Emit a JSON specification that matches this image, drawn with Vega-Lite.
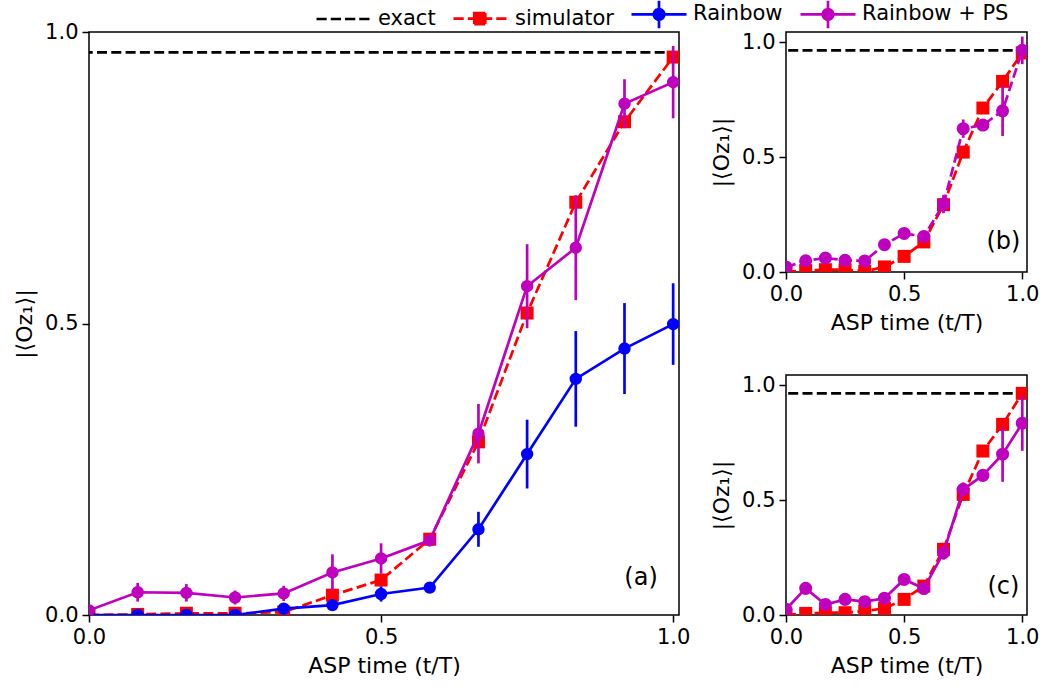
{
  "$schema": "https://vega.github.io/schema/vega-lite/v6.json",
  "padding": {"left": 12, "top": 0, "right": 5, "bottom": 5},
  "background": "white",
  "bounds": "flush",
  "spacing": 107,
  "datasets": {
    "pts": [
      {"p": "a", "s": "exact", "y": 0.965},
      {"p": "a", "s": "simulator", "t": 0.0, "y": 0.0},
      {"p": "a", "s": "simulator", "t": 0.0833, "y": 0.001},
      {"p": "a", "s": "simulator", "t": 0.1667, "y": 0.003},
      {"p": "a", "s": "simulator", "t": 0.25, "y": 0.003},
      {"p": "a", "s": "simulator", "t": 0.3333, "y": 0.005},
      {"p": "a", "s": "simulator", "t": 0.4167, "y": 0.034},
      {"p": "a", "s": "simulator", "t": 0.5, "y": 0.06},
      {"p": "a", "s": "simulator", "t": 0.5833, "y": 0.13},
      {"p": "a", "s": "simulator", "t": 0.6667, "y": 0.297},
      {"p": "a", "s": "simulator", "t": 0.75, "y": 0.518},
      {"p": "a", "s": "simulator", "t": 0.8333, "y": 0.708},
      {"p": "a", "s": "simulator", "t": 0.9167, "y": 0.846},
      {"p": "a", "s": "simulator", "t": 1.0, "y": 0.957},
      {"p": "a", "s": "Rainbow", "t": 0.0, "y": 0.0, "e": 0.002},
      {"p": "a", "s": "Rainbow", "t": 0.0833, "y": 0.0, "e": 0.003},
      {"p": "a", "s": "Rainbow", "t": 0.1667, "y": 0.0, "e": 0.003},
      {"p": "a", "s": "Rainbow", "t": 0.25, "y": 0.0, "e": 0.003},
      {"p": "a", "s": "Rainbow", "t": 0.3333, "y": 0.011, "e": 0.005},
      {"p": "a", "s": "Rainbow", "t": 0.4167, "y": 0.017, "e": 0.006},
      {"p": "a", "s": "Rainbow", "t": 0.5, "y": 0.036, "e": 0.013},
      {"p": "a", "s": "Rainbow", "t": 0.5833, "y": 0.047, "e": 0.006},
      {"p": "a", "s": "Rainbow", "t": 0.6667, "y": 0.147, "e": 0.03},
      {"p": "a", "s": "Rainbow", "t": 0.75, "y": 0.276, "e": 0.059},
      {"p": "a", "s": "Rainbow", "t": 0.8333, "y": 0.405, "e": 0.082},
      {"p": "a", "s": "Rainbow", "t": 0.9167, "y": 0.457, "e": 0.078},
      {"p": "a", "s": "Rainbow", "t": 1.0, "y": 0.499, "e": 0.07},
      {"p": "a", "s": "Rainbow + PS", "t": 0.0, "y": 0.008, "e": 0.004},
      {"p": "a", "s": "Rainbow + PS", "t": 0.0833, "y": 0.039, "e": 0.016},
      {"p": "a", "s": "Rainbow + PS", "t": 0.1667, "y": 0.038, "e": 0.015},
      {"p": "a", "s": "Rainbow + PS", "t": 0.25, "y": 0.03, "e": 0.012},
      {"p": "a", "s": "Rainbow + PS", "t": 0.3333, "y": 0.037, "e": 0.013},
      {"p": "a", "s": "Rainbow + PS", "t": 0.4167, "y": 0.073, "e": 0.031},
      {"p": "a", "s": "Rainbow + PS", "t": 0.5, "y": 0.097, "e": 0.026},
      {"p": "a", "s": "Rainbow + PS", "t": 0.5833, "y": 0.128, "e": 0.01},
      {"p": "a", "s": "Rainbow + PS", "t": 0.6667, "y": 0.311, "e": 0.051},
      {"p": "a", "s": "Rainbow + PS", "t": 0.75, "y": 0.564, "e": 0.072},
      {"p": "a", "s": "Rainbow + PS", "t": 0.8333, "y": 0.63, "e": 0.09},
      {"p": "a", "s": "Rainbow + PS", "t": 0.9167, "y": 0.877, "e": 0.042},
      {"p": "a", "s": "Rainbow + PS", "t": 1.0, "y": 0.914, "e": 0.062},

      {"p": "b", "s": "exact", "y": 0.965},
      {"p": "b", "s": "simulator", "t": 0.0, "y": 0.0},
      {"p": "b", "s": "simulator", "t": 0.0833, "y": 0.007},
      {"p": "b", "s": "simulator", "t": 0.1667, "y": 0.01},
      {"p": "b", "s": "simulator", "t": 0.25, "y": 0.01},
      {"p": "b", "s": "simulator", "t": 0.3333, "y": 0.003},
      {"p": "b", "s": "simulator", "t": 0.4167, "y": 0.022},
      {"p": "b", "s": "simulator", "t": 0.5, "y": 0.068},
      {"p": "b", "s": "simulator", "t": 0.5833, "y": 0.131},
      {"p": "b", "s": "simulator", "t": 0.6667, "y": 0.293},
      {"p": "b", "s": "simulator", "t": 0.75, "y": 0.522},
      {"p": "b", "s": "simulator", "t": 0.8333, "y": 0.714},
      {"p": "b", "s": "simulator", "t": 0.9167, "y": 0.83},
      {"p": "b", "s": "simulator", "t": 1.0, "y": 0.954},
      {"p": "b", "s": "Rainbow + PS", "t": 0.0, "y": 0.022, "e": 0.01},
      {"p": "b", "s": "Rainbow + PS", "t": 0.0833, "y": 0.049, "e": 0.01},
      {"p": "b", "s": "Rainbow + PS", "t": 0.1667, "y": 0.061, "e": 0.01},
      {"p": "b", "s": "Rainbow + PS", "t": 0.25, "y": 0.051, "e": 0.01},
      {"p": "b", "s": "Rainbow + PS", "t": 0.3333, "y": 0.048, "e": 0.01},
      {"p": "b", "s": "Rainbow + PS", "t": 0.4167, "y": 0.119, "e": 0.02},
      {"p": "b", "s": "Rainbow + PS", "t": 0.5, "y": 0.168, "e": 0.01},
      {"p": "b", "s": "Rainbow + PS", "t": 0.5833, "y": 0.155, "e": 0.015},
      {"p": "b", "s": "Rainbow + PS", "t": 0.6667, "y": 0.296, "e": 0.04},
      {"p": "b", "s": "Rainbow + PS", "t": 0.75, "y": 0.624, "e": 0.04},
      {"p": "b", "s": "Rainbow + PS", "t": 0.8333, "y": 0.64, "e": 0.01},
      {"p": "b", "s": "Rainbow + PS", "t": 0.9167, "y": 0.702, "e": 0.11},
      {"p": "b", "s": "Rainbow + PS", "t": 1.0, "y": 0.965, "e": 0.06},

      {"p": "c", "s": "exact", "y": 0.965},
      {"p": "c", "s": "simulator", "t": 0.0, "y": 0.0},
      {"p": "c", "s": "simulator", "t": 0.0833, "y": 0.007},
      {"p": "c", "s": "simulator", "t": 0.1667, "y": 0.01},
      {"p": "c", "s": "simulator", "t": 0.25, "y": 0.01},
      {"p": "c", "s": "simulator", "t": 0.3333, "y": 0.017},
      {"p": "c", "s": "simulator", "t": 0.4167, "y": 0.029},
      {"p": "c", "s": "simulator", "t": 0.5, "y": 0.068},
      {"p": "c", "s": "simulator", "t": 0.5833, "y": 0.126},
      {"p": "c", "s": "simulator", "t": 0.6667, "y": 0.286},
      {"p": "c", "s": "simulator", "t": 0.75, "y": 0.525},
      {"p": "c", "s": "simulator", "t": 0.8333, "y": 0.714},
      {"p": "c", "s": "simulator", "t": 0.9167, "y": 0.83},
      {"p": "c", "s": "simulator", "t": 1.0, "y": 0.965},
      {"p": "c", "s": "Rainbow + PS", "t": 0.0, "y": 0.025, "e": 0.01},
      {"p": "c", "s": "Rainbow + PS", "t": 0.0833, "y": 0.116, "e": 0.01},
      {"p": "c", "s": "Rainbow + PS", "t": 0.1667, "y": 0.046, "e": 0.01},
      {"p": "c", "s": "Rainbow + PS", "t": 0.25, "y": 0.068, "e": 0.01},
      {"p": "c", "s": "Rainbow + PS", "t": 0.3333, "y": 0.058, "e": 0.01},
      {"p": "c", "s": "Rainbow + PS", "t": 0.4167, "y": 0.073, "e": 0.01},
      {"p": "c", "s": "Rainbow + PS", "t": 0.5, "y": 0.155, "e": 0.01},
      {"p": "c", "s": "Rainbow + PS", "t": 0.5833, "y": 0.115, "e": 0.02},
      {"p": "c", "s": "Rainbow + PS", "t": 0.6667, "y": 0.271, "e": 0.03},
      {"p": "c", "s": "Rainbow + PS", "t": 0.75, "y": 0.547, "e": 0.03},
      {"p": "c", "s": "Rainbow + PS", "t": 0.8333, "y": 0.608, "e": 0.02},
      {"p": "c", "s": "Rainbow + PS", "t": 0.9167, "y": 0.7, "e": 0.12},
      {"p": "c", "s": "Rainbow + PS", "t": 1.0, "y": 0.835, "e": 0.12}
    ]
  },
  "hconcat": [
    {
      "width": 590,
      "height": 583,
      "data": {"name": "pts"},
      "transform": [{"filter": "datum.p === 'a'"}],
      "layer": [
        {
          "transform": [{"filter": "datum.s === 'exact'"}],
          "mark": {"type": "rule", "strokeDash": [10, 4.3], "strokeWidth": 2.7},
          "encoding": {
            "y": {"field": "y", "type": "quantitative", "scale": {"domain": [0, 1.0], "nice": false}, "axis": {"values": [0, 0.5, 1.0], "format": ".1f"}, "title": "|⟨Oz₁⟩|"},
            "color": {
              "field": "s", "type": "nominal",
              "scale": {"domain": ["exact", "simulator", "Rainbow", "Rainbow + PS"], "range": ["#000000", "#ff0000", "#0000ff", "#bf00bf"]},
              "legend": {
                "title": null,
                "orient": "none",
                "direction": "horizontal",
                "legendX": 226,
                "legendY": -32,
                "padding": 0,
                "symbolSize": 625,
                "labelOffset": 35,
                "columnPadding": 12,
                "labelFont": "DejaVu Sans",
                "labelFontSize": 21,
                "labelColor": "#000000",
                "labelLimit": 400,
                "symbolStrokeWidth": 2.7,
                "encode": {
                  "symbols": {
                    "update": {
                      "shape": {"signal": "datum.value === 'exact' ? 'M-1,0H-0.18M0.14,0H0.96M1.28,0H2.1M2.42,0H3.24' : datum.value === 'simulator' ? 'M-1,0H-0.18M0.14,0H2.1M2.42,0H3.24M0.66,-0.44H1.54V0.44H0.66Z' : 'M-1,0H3.4M1.2,-1.1V1.1M1.62,0A0.42,0.42 0 1,1 0.78,0A0.42,0.42 0 1,1 1.62,0Z'"},
                      "fill": {"signal": "datum.value === 'exact' ? '#000000' : datum.value === 'simulator' ? '#ff0000' : datum.value === 'Rainbow' ? '#0000ff' : '#bf00bf'"},
                      "stroke": {"signal": "datum.value === 'exact' ? '#000000' : datum.value === 'simulator' ? '#ff0000' : datum.value === 'Rainbow' ? '#0000ff' : '#bf00bf'"},
                      "strokeDash": {"value": [1, 0]},
                      "strokeWidth": {"value": 2.7},
                      "opacity": {"value": 1},
                      "fillOpacity": {"value": 1}
                    }
                  }
                }
              }
            }
          }
        },
        {
          "transform": [{"filter": "datum.s === 'simulator'"}],
          "mark": {"type": "line", "strokeDash": [10, 4.3], "strokeWidth": 2.7, "clip": true},
          "encoding": {
            "x": {"field": "t", "type": "quantitative", "scale": {"domain": [0, 1.01], "nice": false}, "axis": {"values": [0, 0.5, 1.0], "format": ".1f"}, "title": "ASP time (t/T)"},
            "y": {"field": "y", "type": "quantitative", "title": "|⟨Oz₁⟩|"},
            "color": {"field": "s", "type": "nominal"}
          }
        },
        {
          "transform": [{"filter": "datum.s === 'simulator'"}],
          "mark": {"type": "point", "shape": "square", "filled": true, "size": 169, "opacity": 1, "clip": true},
          "encoding": {
            "x": {"field": "t", "type": "quantitative", "title": "ASP time (t/T)"},
            "y": {"field": "y", "type": "quantitative", "title": "|⟨Oz₁⟩|"},
            "color": {"field": "s", "type": "nominal"}
          }
        },
        {
          "transform": [{"filter": "datum.s === 'Rainbow'"}],
          "mark": {"type": "errorbar", "thickness": 2.7, "clip": true},
          "encoding": {
            "x": {"field": "t", "type": "quantitative", "title": "ASP time (t/T)"},
            "y": {"field": "y", "type": "quantitative", "title": "|⟨Oz₁⟩|"},
            "yError": {"field": "e"},
            "color": {"field": "s", "type": "nominal"}
          }
        },
        {
          "transform": [{"filter": "datum.s === 'Rainbow'"}],
          "mark": {"type": "line", "strokeWidth": 2.7, "clip": true},
          "encoding": {
            "x": {"field": "t", "type": "quantitative", "title": "ASP time (t/T)"},
            "y": {"field": "y", "type": "quantitative", "title": "|⟨Oz₁⟩|"},
            "color": {"field": "s", "type": "nominal"}
          }
        },
        {
          "transform": [{"filter": "datum.s === 'Rainbow'"}],
          "mark": {"type": "point", "shape": "circle", "filled": true, "size": 154, "opacity": 1, "clip": true},
          "encoding": {
            "x": {"field": "t", "type": "quantitative", "title": "ASP time (t/T)"},
            "y": {"field": "y", "type": "quantitative", "title": "|⟨Oz₁⟩|"},
            "color": {"field": "s", "type": "nominal"}
          }
        },
        {
          "transform": [{"filter": "datum.s === 'Rainbow + PS'"}],
          "mark": {"type": "errorbar", "thickness": 2.7, "clip": true},
          "encoding": {
            "x": {"field": "t", "type": "quantitative", "title": "ASP time (t/T)"},
            "y": {"field": "y", "type": "quantitative", "title": "|⟨Oz₁⟩|"},
            "yError": {"field": "e"},
            "color": {"field": "s", "type": "nominal"}
          }
        },
        {
          "transform": [{"filter": "datum.s === 'Rainbow + PS'"}],
          "mark": {"type": "line", "strokeWidth": 2.7, "clip": true},
          "encoding": {
            "x": {"field": "t", "type": "quantitative", "title": "ASP time (t/T)"},
            "y": {"field": "y", "type": "quantitative", "title": "|⟨Oz₁⟩|"},
            "color": {"field": "s", "type": "nominal"}
          }
        },
        {
          "transform": [{"filter": "datum.s === 'Rainbow + PS'"}],
          "mark": {"type": "point", "shape": "circle", "filled": true, "size": 154, "opacity": 1, "clip": true},
          "encoding": {
            "x": {"field": "t", "type": "quantitative", "title": "ASP time (t/T)"},
            "y": {"field": "y", "type": "quantitative", "title": "|⟨Oz₁⟩|"},
            "color": {"field": "s", "type": "nominal"}
          }
        },
        {
          "transform": [{"filter": "datum.s === 'exact'"}],
          "mark": {"type": "text", "font": "DejaVu Sans", "fontSize": 24, "color": "#000000"},
          "encoding": {
            "x": {"datum": 0.945, "type": "quantitative"},
            "y": {"datum": 0.063, "type": "quantitative"},
            "text": {"value": "(a)"}
          }
        }
      ]
    },
    {
      "bounds": "flush",
      "spacing": 103,
      "vconcat": [
        {
          "width": 241,
          "height": 240,
          "data": {"name": "pts"},
          "transform": [{"filter": "datum.p === 'b'"}],
          "layer": [
            {
              "transform": [{"filter": "datum.s === 'exact'"}],
              "mark": {"type": "rule", "strokeDash": [10, 4.3], "strokeWidth": 2.7},
              "encoding": {
                "y": {"field": "y", "type": "quantitative", "scale": {"domain": [0, 1.045], "nice": false}, "axis": {"values": [0, 0.5, 1.0], "format": ".1f"}, "title": "|⟨Oz₁⟩|"},
                "color": {"field": "s", "type": "nominal", "legend": null}
              }
            },
            {
              "transform": [{"filter": "datum.s === 'simulator'"}],
              "mark": {"type": "line", "strokeDash": [10, 4.3], "strokeWidth": 2.7, "clip": true},
              "encoding": {
                "x": {"field": "t", "type": "quantitative", "scale": {"domain": [0, 1.02], "nice": false}, "axis": {"values": [0, 0.5, 1.0], "format": ".1f"}, "title": "ASP time (t/T)"},
                "y": {"field": "y", "type": "quantitative", "title": "|⟨Oz₁⟩|"},
                "color": {"field": "s", "type": "nominal", "legend": null}
              }
            },
            {
              "transform": [{"filter": "datum.s === 'simulator'"}],
              "mark": {"type": "point", "shape": "square", "filled": true, "size": 169, "opacity": 1, "clip": true},
              "encoding": {
                "x": {"field": "t", "type": "quantitative", "title": "ASP time (t/T)"},
                "y": {"field": "y", "type": "quantitative", "title": "|⟨Oz₁⟩|"},
                "color": {"field": "s", "type": "nominal", "legend": null}
              }
            },
            {
              "transform": [{"filter": "datum.s === 'Rainbow + PS'"}],
              "mark": {"type": "errorbar", "thickness": 2.7, "clip": true},
              "encoding": {
                "x": {"field": "t", "type": "quantitative", "title": "ASP time (t/T)"},
                "y": {"field": "y", "type": "quantitative", "title": "|⟨Oz₁⟩|"},
                "yError": {"field": "e"},
                "color": {"field": "s", "type": "nominal", "legend": null}
              }
            },
            {
              "transform": [{"filter": "datum.s === 'Rainbow + PS'"}],
              "mark": {"type": "line", "strokeDash": [10, 4.3], "strokeWidth": 2.7, "clip": true},
              "encoding": {
                "x": {"field": "t", "type": "quantitative", "title": "ASP time (t/T)"},
                "y": {"field": "y", "type": "quantitative", "title": "|⟨Oz₁⟩|"},
                "color": {"field": "s", "type": "nominal", "legend": null}
              }
            },
            {
              "transform": [{"filter": "datum.s === 'Rainbow + PS'"}],
              "mark": {"type": "point", "shape": "circle", "filled": true, "size": 170, "opacity": 1, "clip": true},
              "encoding": {
                "x": {"field": "t", "type": "quantitative", "title": "ASP time (t/T)"},
                "y": {"field": "y", "type": "quantitative", "title": "|⟨Oz₁⟩|"},
                "color": {"field": "s", "type": "nominal", "legend": null}
              }
            },
            {
              "transform": [{"filter": "datum.s === 'exact'"}],
              "mark": {"type": "text", "font": "DejaVu Sans", "fontSize": 24, "color": "#000000"},
              "encoding": {
                "x": {"datum": 0.92, "type": "quantitative"},
                "y": {"datum": 0.13, "type": "quantitative"},
                "text": {"value": "(b)"}
              }
            }
          ]
        },
        {
          "width": 241,
          "height": 240,
          "data": {"name": "pts"},
          "transform": [{"filter": "datum.p === 'c'"}],
          "layer": [
            {
              "transform": [{"filter": "datum.s === 'exact'"}],
              "mark": {"type": "rule", "strokeDash": [10, 4.3], "strokeWidth": 2.7},
              "encoding": {
                "y": {"field": "y", "type": "quantitative", "scale": {"domain": [0, 1.045], "nice": false}, "axis": {"values": [0, 0.5, 1.0], "format": ".1f"}, "title": "|⟨Oz₁⟩|"},
                "color": {"field": "s", "type": "nominal", "legend": null}
              }
            },
            {
              "transform": [{"filter": "datum.s === 'simulator'"}],
              "mark": {"type": "line", "strokeDash": [10, 4.3], "strokeWidth": 2.7, "clip": true},
              "encoding": {
                "x": {"field": "t", "type": "quantitative", "scale": {"domain": [0, 1.02], "nice": false}, "axis": {"values": [0, 0.5, 1.0], "format": ".1f"}, "title": "ASP time (t/T)"},
                "y": {"field": "y", "type": "quantitative", "title": "|⟨Oz₁⟩|"},
                "color": {"field": "s", "type": "nominal", "legend": null}
              }
            },
            {
              "transform": [{"filter": "datum.s === 'simulator'"}],
              "mark": {"type": "point", "shape": "square", "filled": true, "size": 169, "opacity": 1, "clip": true},
              "encoding": {
                "x": {"field": "t", "type": "quantitative", "title": "ASP time (t/T)"},
                "y": {"field": "y", "type": "quantitative", "title": "|⟨Oz₁⟩|"},
                "color": {"field": "s", "type": "nominal", "legend": null}
              }
            },
            {
              "transform": [{"filter": "datum.s === 'Rainbow + PS'"}],
              "mark": {"type": "errorbar", "thickness": 2.7, "clip": true},
              "encoding": {
                "x": {"field": "t", "type": "quantitative", "title": "ASP time (t/T)"},
                "y": {"field": "y", "type": "quantitative", "title": "|⟨Oz₁⟩|"},
                "yError": {"field": "e"},
                "color": {"field": "s", "type": "nominal", "legend": null}
              }
            },
            {
              "transform": [{"filter": "datum.s === 'Rainbow + PS'"}],
              "mark": {"type": "line", "strokeWidth": 2.7, "clip": true},
              "encoding": {
                "x": {"field": "t", "type": "quantitative", "title": "ASP time (t/T)"},
                "y": {"field": "y", "type": "quantitative", "title": "|⟨Oz₁⟩|"},
                "color": {"field": "s", "type": "nominal", "legend": null}
              }
            },
            {
              "transform": [{"filter": "datum.s === 'Rainbow + PS'"}],
              "mark": {"type": "point", "shape": "circle", "filled": true, "size": 170, "opacity": 1, "clip": true},
              "encoding": {
                "x": {"field": "t", "type": "quantitative", "title": "ASP time (t/T)"},
                "y": {"field": "y", "type": "quantitative", "title": "|⟨Oz₁⟩|"},
                "color": {"field": "s", "type": "nominal", "legend": null}
              }
            },
            {
              "transform": [{"filter": "datum.s === 'exact'"}],
              "mark": {"type": "text", "font": "DejaVu Sans", "fontSize": 24, "color": "#000000"},
              "encoding": {
                "x": {"datum": 0.92, "type": "quantitative"},
                "y": {"datum": 0.12, "type": "quantitative"},
                "text": {"value": "(c)"}
              }
            }
          ]
        }
      ]
    }
  ],
  "config": {
    "view": {"stroke": "#000000", "strokeWidth": 1.5},
    "axis": {
      "grid": false,
      "domain": false,
      "ticks": true,
      "tickColor": "#000000",
      "tickSize": 7,
      "tickWidth": 1.5,
      "labelFont": "DejaVu Sans",
      "labelFontSize": 21,
      "labelColor": "#000000",
      "labelPadding": 4,
      "labelFlush": false,
      "labelOverlap": false,
      "titleFont": "DejaVu Sans",
      "titleFontSize": 22,
      "titleFontWeight": "normal",
      "titleColor": "#000000",
      "titlePadding": 8
    }
  }
}
